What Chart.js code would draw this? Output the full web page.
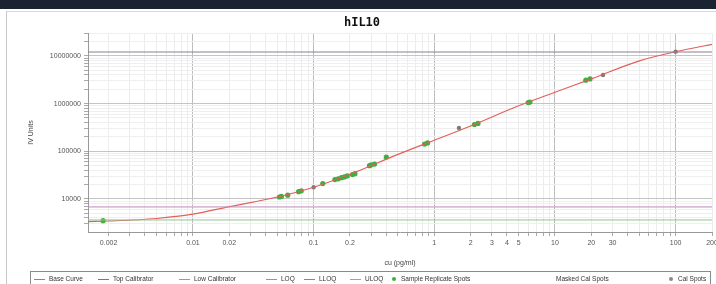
<!DOCTYPE html>
<html>
<head>
<meta charset="utf-8">
<script src="https://cdn.jsdelivr.net/npm/chart.js@4"></script>
<style>
  html,body{margin:0;padding:0;background:#fff;}
  #wrap{position:relative;width:716px;height:284px;overflow:hidden;background:#fff;font-family:"Liberation Sans","DejaVu Sans",sans-serif;}
  #band{position:absolute;left:0;top:0;width:716px;height:9px;background:#1b2231;}
  #frame{position:absolute;left:6px;top:11px;width:720px;height:290px;border-left:1px solid #c8c8c8;border-top:1px solid #d8d8d8;}
  #title{position:absolute;left:0;top:15px;width:716px;text-align:center;font:bold 12px "DejaVu Sans Mono",monospace;color:#111;padding-left:4px;}
  canvas{position:absolute;left:0;top:0;}
  #legend{position:absolute;left:30px;top:271px;width:681px;height:16px;border:1px solid #8a8a8a;box-sizing:border-box;font-size:6.5px;color:#333;white-space:nowrap;}
  #legend span.it{position:absolute;top:3px;}
  .ln{display:inline-block;width:11px;height:0;border-top:1px solid;vertical-align:middle;margin-right:4px;}
  .dt{display:inline-block;width:4px;height:4px;border-radius:50%;vertical-align:middle;margin-right:5px;}
</style>
</head>
<body>
<div id="wrap">
  <div id="band"></div>
  <div id="frame"></div>
  <canvas id="c" width="716" height="284"></canvas>
  <div id="title">hIL10</div>
  <div id="legend">
    <span class="it" style="left:3px"><span class="ln" style="border-color:#e06060"></span>Base Curve</span>
    <span class="it" style="left:67px"><span class="ln" style="border-color:#777"></span>Top Calibrator</span>
    <span class="it" style="left:148px"><span class="ln" style="border-color:#999"></span>Low Calibrator</span>
    <span class="it" style="left:235px"><span class="ln" style="border-color:#6ab46a"></span>LOQ</span>
    <span class="it" style="left:273px"><span class="ln" style="border-color:#e06060"></span>LLOQ</span>
    <span class="it" style="left:319px"><span class="ln" style="border-color:#c58ab8"></span>ULOQ</span>
    <span class="it" style="left:361px"><span class="dt" style="background:#3fae3f"></span>Sample Replicate Spots</span>
    <span class="it" style="left:525px">Masked Cal Spots</span>
    <span class="it" style="left:638px"><span class="dt" style="background:#888"></span>Cal Spots</span>
  </div>
</div>
<script>
// ---- data ----
const curveX = [0.00135, 0.002, 0.005, 0.01, 0.02, 0.05, 0.1, 0.2, 0.5, 1, 2, 5, 10, 20, 50, 100, 200];
const curveY = [3350, 3450, 3900, 4800, 6900, 11000, 17600, 33000, 86000, 171000, 340000, 900000, 1730000, 3300000, 7900000, 12300000, 17500000];

const sampleX = [0.0018, 0.052, 0.054, 0.061, 0.075, 0.079, 0.119, 0.15, 0.16, 0.17, 0.18, 0.19, 0.21, 0.22, 0.29, 0.30, 0.32, 0.40, 0.83, 0.88, 2.15, 2.3, 6.0, 6.2, 18, 19.5];
const sampleY = [3500, 11000, 11300, 12000, 14200, 14800, 21000, 25500, 26500, 28000, 29000, 30500, 32500, 34000, 50000, 52000, 54000, 76000, 142000, 150000, 365000, 385000, 1050000, 1080000, 3100000, 3300000];

const calX = [0.1, 1.6, 25, 100];
const calY = [17600, 310000, 4000000, 12300000];

const topCalibrator = 12100000;
const ulog = 6800;
const loq = 3630;

const xRange = [0.00135, 200];
const yRange = [2030, 30300000];

const xLabelTicks = [0.002, 0.01, 0.02, 0.1, 0.2, 1, 2, 3, 4, 5, 10, 20, 30, 100, 200];
const yLabelTicks = [10000, 100000, 1000000, 10000000];

// ---- build ----
function logTicks(min, max){
  const out=[];
  for(let e=Math.floor(Math.log10(min)); e<=Math.ceil(Math.log10(max)); e++){
    for(let m=1;m<=9;m++){
      const v = +(m*Math.pow(10,e)).toPrecision(6);
      if(v>=min*0.999 && v<=max*1.001) out.push(v);
    }
  }
  return out;
}
const isDecade = v => Math.abs(Math.log10(v)-Math.round(Math.log10(v)))<1e-6;
const near = (list,v) => list.some(t=>Math.abs(t-v)/t<1e-6);

const pts = (xs,ys)=>xs.map((x,i)=>({x:x,y:ys[i]}));
const hline = v => [{x:xRange[0],y:v},{x:xRange[1],y:v}];

new Chart(document.getElementById('c'),{
  type:'scatter',
  data:{datasets:[
    {label:'Top Calibrator',data:hline(topCalibrator),showLine:true,borderColor:'#8a7f90',borderWidth:1,pointRadius:0},
    {label:'ULOQ',data:hline(ulog),showLine:true,borderColor:'#c98fbf',borderWidth:1,pointRadius:0},
    {label:'LOQ',data:hline(loq),showLine:true,borderColor:'#8cc88c',borderWidth:1,pointRadius:0},
    {label:'Base Curve',data:pts(curveX,curveY),showLine:true,borderColor:'#e2605a',borderWidth:1.2,pointRadius:0,cubicInterpolationMode:'monotone'},
    {label:'Sample Replicate Spots',data:pts(sampleX,sampleY),backgroundColor:'#3fae3f',borderColor:'#3fae3f',pointRadius:2.6,borderWidth:0},
    {label:'Cal Spots',data:pts(calX,calY),backgroundColor:'#7a7a7a',borderColor:'#7a7a7a',pointRadius:2.2,borderWidth:0}
  ]},
  options:{
    responsive:false,animation:false,
    layout:{padding:{top:33,left:0,right:0,bottom:0}},
    plugins:{legend:{display:false},tooltip:{enabled:false}},
    scales:{
      x:{type:'logarithmic',min:xRange[0],max:xRange[1],
        afterBuildTicks:s=>{s.ticks=logTicks(xRange[0],xRange[1]).map(v=>({value:v}));},
        afterFit:s=>{s.height=52;s.paddingRight=0;s.paddingLeft=0;},
        grid:{color:c=>isDecade(c.tick.value)?'#bdbdbd':'#ececec',tickLength:4,drawTicks:true,tickColor:'#aaa'},
        border:{color:'#999'},
        ticks:{autoSkip:false,maxRotation:0,padding:3,color:'#555',font:{size:7,family:'Liberation Sans'},
          callback:v=>near(xLabelTicks,v)?String(v):''},
        title:{display:true,text:'cu (pg/ml)',color:'#444',font:{size:7,family:'Liberation Sans'},padding:{top:0,bottom:17}}
      },
      y:{type:'logarithmic',min:yRange[0],max:yRange[1],
        afterBuildTicks:s=>{s.ticks=logTicks(yRange[0],yRange[1]).map(v=>({value:v}));},
        afterFit:s=>{s.width=88;s.paddingTop=0;s.paddingBottom=0;},
        grid:{color:c=>isDecade(c.tick.value)?'#c4c4c4':'#efefef',tickLength:4,tickColor:'#aaa'},
        border:{color:'#999'},
        ticks:{autoSkip:false,padding:3,color:'#555',font:{size:7,family:'Liberation Sans'},
          callback:v=>near(yLabelTicks,v)?String(v):''},
        title:{display:true,text:'IV Units',color:'#444',font:{size:7,family:'Liberation Sans'},padding:{top:27,bottom:0}}
      }
    }
  }
});
</script>
</body>
</html>
